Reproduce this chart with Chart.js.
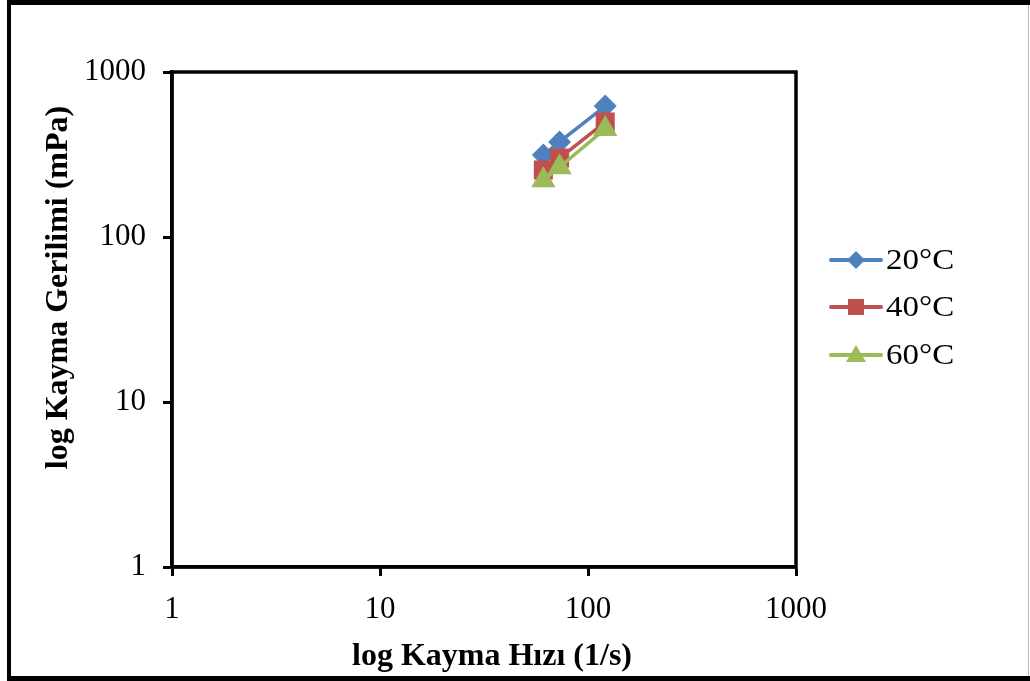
<!DOCTYPE html>
<html lang="tr">
<head>
<meta charset="UTF-8">
<title>Kayma Gerilimi - Kayma Hızı</title>
<script src="https://cdn.jsdelivr.net/npm/chart.js"></script>
<style>
  html, body { margin: 0; padding: 0; background: #fff; }
  #wrap { width: 1030px; height: 681px; }
</style>
</head>
<body>
<div id="wrap"><canvas id="flowChart" width="1030" height="681"></canvas></div>
<script>
// shear rate (1/s) and shear stress (mPa) at three temperatures
const shearRate = [61, 73, 121];
const stress20 = [314, 377, 622];
const stress40 = [255, 301, 497];
const stress60 = [221, 265, 452];
const seriesNames = ['20°C', '40°C', '60°C'];
const decadeTicks = [1, 10, 100, 1000];

const blue = '#4F81BD', red = '#C0504D', green = '#9BBB59';
const serif = 'Liberation Serif, Times New Roman, serif';

function pts(ys) {
  return shearRate.map((x, i) => ({ x: x, y: ys[i] }));
}

// outer box, plot frame and the right-hand legend
const framePlugin = {
  id: 'frame',
  afterDraw(chart) {
    const c = chart.ctx, a = chart.chartArea;
    c.save();
    c.strokeStyle = '#000';
    c.lineWidth = 3.5;
    c.strokeRect(a.left, a.top, a.right - a.left, a.bottom - a.top);

    // page border
    c.fillStyle = '#000';
    c.fillRect(7, 0, 1030, 5);
    c.fillRect(7, 0, 4, 681);
    c.fillRect(7, 676, 1030, 5);
    c.fillStyle = '#bbb';
    c.fillRect(1028, 5, 1, 671);

    // legend
    const rows = [
      { name: seriesNames[0], color: blue, shape: 'diamond', y: 260 },
      { name: seriesNames[1], color: red, shape: 'square', y: 307 },
      { name: seriesNames[2], color: green, shape: 'triangle', y: 355 }
    ];
    rows.forEach(r => {
      c.strokeStyle = r.color;
      c.fillStyle = r.color;
      c.lineWidth = 4;
      c.lineCap = 'round';
      c.beginPath();
      c.moveTo(831, r.y);
      c.lineTo(881, r.y);
      c.stroke();
      const mx = 856, my = r.y;
      c.beginPath();
      if (r.shape === 'diamond') {
        c.moveTo(mx, my - 9); c.lineTo(mx + 9, my); c.lineTo(mx, my + 9); c.lineTo(mx - 9, my);
      } else if (r.shape === 'square') {
        c.rect(mx - 8, my - 8, 16, 16);
      } else {
        c.moveTo(mx, my - 10); c.lineTo(mx + 10, my + 7); c.lineTo(mx - 10, my + 7);
      }
      c.closePath();
      c.fill();
      c.fillStyle = '#000';
      c.font = '30px ' + serif;
      c.textAlign = 'left';
      c.textBaseline = 'middle';
      c.save();
      c.translate(886, r.y + 1);
      c.scale(1.1, 1);
      c.fillText(r.name, 0, 0);
      c.restore();
    });
    c.restore();
  }
};

const common = {
  showLine: true,
  borderWidth: 3.5,
  fill: false,
  tension: 0
};

new Chart(document.getElementById('flowChart'), {
  type: 'scatter',
  data: {
    datasets: [
      Object.assign({ label: seriesNames[0], data: pts(stress20), borderColor: blue, backgroundColor: blue,
        pointStyle: 'rectRot', pointRadius: 9, pointHoverRadius: 9, order: 2 }, common),
      Object.assign({ label: seriesNames[1], data: pts(stress40), borderColor: red, backgroundColor: red,
        pointStyle: 'rect', pointRadius: 11, pointHoverRadius: 11, order: 1 }, common),
      Object.assign({ label: seriesNames[2], data: pts(stress60), borderColor: green, backgroundColor: green,
        pointStyle: 'triangle', pointRadius: 10.5, pointHoverRadius: 10.5, order: 0 }, common)
    ]
  },
  options: {
    responsive: false,
    animation: false,
    layout: { padding: { left: 0, right: 234, top: 72, bottom: 0 } },
    plugins: { legend: { display: false }, tooltip: { enabled: false } },
    elements: { point: { borderWidth: 0 } },
    scales: {
      x: {
        type: 'logarithmic',
        min: 1, max: 1000,
        afterBuildTicks: s => { s.ticks = decadeTicks.map(v => ({ value: v })); },
        afterFit: s => { s.height = 114; },
        border: { display: true, color: '#000', width: 3.5 },
        grid: { drawOnChartArea: false, drawTicks: true, tickLength: 9, tickWidth: 3, tickColor: '#000' },
        ticks: {
          color: '#000', padding: 15, maxRotation: 0, autoSkip: false,
          font: { family: serif, size: 31 },
          callback: v => String(v)
        },
        title: {
          display: true, text: '  log Kayma Hızı (1/s)', color: '#000',
          font: { family: serif, size: 32, weight: 'bold' },
          padding: { top: 0, bottom: 5 }
        }
      },
      y: {
        type: 'logarithmic',
        min: 1, max: 1000,
        afterBuildTicks: s => { s.ticks = decadeTicks.map(v => ({ value: v })); },
        afterFit: s => { s.width = 172; },
        border: { display: true, color: '#000', width: 3.5 },
        grid: { drawOnChartArea: false, drawTicks: true, tickLength: 9, tickWidth: 3, tickColor: '#000' },
        ticks: {
          color: '#000', padding: 17, autoSkip: false,
          font: { family: serif, size: 31 },
          callback: v => String(v)
        },
        title: {
          display: true, text: '        log Kayma Gerilimi (mPa)', color: '#000',
          font: { family: serif, size: 32, weight: 'bold' },
          padding: { top: 40, bottom: 0 }
        }
      }
    }
  },
  plugins: [framePlugin]
});
</script>
</body>
</html>
